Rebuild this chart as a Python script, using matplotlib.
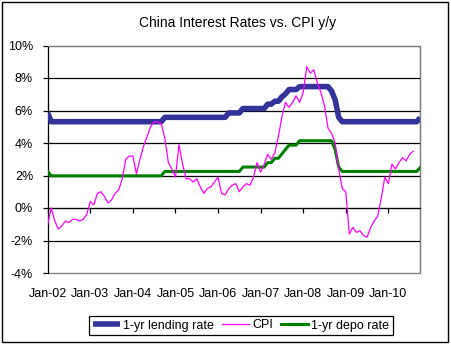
import matplotlib
matplotlib.use("Agg")
import matplotlib.pyplot as plt
from matplotlib.patches import Rectangle
from matplotlib.ticker import FuncFormatter, FixedLocator

plt.rcParams['font.family'] = ['Liberation Sans', 'DejaVu Sans']

# Monthly data, Jan-2002 .. Oct-2010
lending = ([5.85] + [5.31] * 32 +            # Jan02, Feb02-Sep04
           [5.58] * 18 +                     # Oct04-Mar06
           [5.85] * 4 +                      # Apr06-Jul06
           [6.12] * 7 +                      # Aug06-Feb07
           [6.39] * 2 + [6.57] * 2 + [6.84] + [7.02] + [7.29] * 3 +  # Mar07-Nov07
           [7.47] * 9 +                      # Dec07-Aug08
           [7.20, 6.66, 5.58] +              # Sep08-Nov08
           [5.31] * 22 +                     # Dec08-Sep10
           [5.56])                           # Oct10

depo = ([2.25] + [1.98] * 32 +
        [2.25] * 22 +
        [2.52] * 7 +
        [2.79] * 2 + [3.06] * 2 + [3.33] + [3.60] + [3.87] * 3 +
        [4.14] * 10 +
        [3.60, 2.52] +
        [2.25] * 22 +
        [2.50])

cpi = [-1.0, 0.0, -0.8, -1.3, -1.1, -0.8, -0.9, -0.7, -0.7, -0.8, -0.7, -0.4,
       0.4, 0.2, 0.9, 1.0, 0.7, 0.3, 0.5, 0.9, 1.1, 1.8, 3.0, 3.2,
       3.2, 2.1, 3.0, 3.8, 4.4, 5.0, 5.3, 5.3, 5.2, 4.3, 2.8, 2.4,
       1.9, 3.9, 2.7, 1.8, 1.8, 1.6, 1.8, 1.3, 0.9, 1.2, 1.3, 1.6,
       1.9, 0.9, 0.8, 1.2, 1.4, 1.5, 1.0, 1.3, 1.5, 1.4, 1.9, 2.8,
       2.2, 2.7, 3.3, 3.0, 3.4, 4.4, 5.6, 6.5, 6.2, 6.5, 6.9, 6.5,
       7.1, 8.7, 8.3, 8.5, 7.7, 7.1, 6.3, 4.9, 4.6, 4.0, 2.4, 1.2,
       1.0, -1.6, -1.2, -1.5, -1.4, -1.7, -1.8, -1.2, -0.8, -0.5, 0.6, 1.9,
       1.5, 2.7, 2.4, 2.8, 3.1, 2.9, 3.3, 3.5]

x_labels = ['Jan-02', 'Jan-03', 'Jan-04', 'Jan-05', 'Jan-06',
            'Jan-07', 'Jan-08', 'Jan-09', 'Jan-10']

fig = plt.figure(figsize=(4.51, 3.44), dpi=100)
fig.patch.set_facecolor('white')
fig.patches.append(Rectangle((1.5 / 451, 2.5 / 344), 446.5 / 451, 340 / 344,
                             transform=fig.transFigure, fill=False,
                             edgecolor='black', lw=1.0))

ax = fig.add_axes([47.7 / 451, 71 / 344, 372.6 / 451, 227.5 / 344])

ax.plot(range(len(lending)), lending, color='#333399', lw=4.0,
        solid_capstyle='butt', label='1-yr lending rate', zorder=3)
ax.plot(range(len(cpi)), cpi, color='#FF00FF', lw=0.9, label='CPI', zorder=4)
ax.plot(range(len(depo)), depo, color='#008000', lw=2.2,
        label='1-yr depo rate', zorder=3)

ax.set_xlim(0, len(lending) - 1)
ax.set_ylim(-4, 10)
ax.yaxis.set_major_locator(FixedLocator([-4, -2, 0, 2, 4, 6, 8, 10]))
ax.yaxis.set_major_formatter(FuncFormatter(lambda v, p: f"{v:.0f}%"))
ax.xaxis.set_major_locator(FixedLocator(range(0, 12 * len(x_labels), 12)))
ax.set_xticklabels(x_labels)

ax.yaxis.grid(True, color='black', lw=0.9)
gls = ax.get_ygridlines()
gls[0].set_visible(False)
gls[-1].set_visible(False)
ax.set_axisbelow(True)

for s in ['top', 'right']:
    ax.spines[s].set_color('#808080')
ax.spines['left'].set_color('black')
ax.spines['bottom'].set_position(('data', 0))
ax.spines['bottom'].set_color('black')
ax.add_patch(Rectangle((0, 0), 1, 1, transform=ax.transAxes, fill=False,
                       edgecolor='#808080', lw=1.0, zorder=0.5, clip_on=False))

ax.tick_params(axis='y', direction='out', length=3.5, width=0.9, pad=7,
               labelsize=9, colors='black')
ax.tick_params(axis='x', direction='out', length=3.5, width=0.9, pad=54,
               labelsize=9, colors='black')

fig.text(238 / 451, 1 - 23 / 344, 'China Interest Rates vs. CPI y/y',
         ha='center', va='center', fontsize=10)

leg = fig.legend(loc='center', bbox_to_anchor=(241 / 451, 18.5 / 344),
                 ncol=3, fontsize=9, frameon=True, fancybox=False,
                 edgecolor='black', framealpha=1, handlelength=2.2,
                 handletextpad=0.25, columnspacing=0.6, borderpad=0.3,
                 borderaxespad=0)
leg.get_frame().set_linewidth(0.9)

fig.savefig('out.png', dpi=100)
